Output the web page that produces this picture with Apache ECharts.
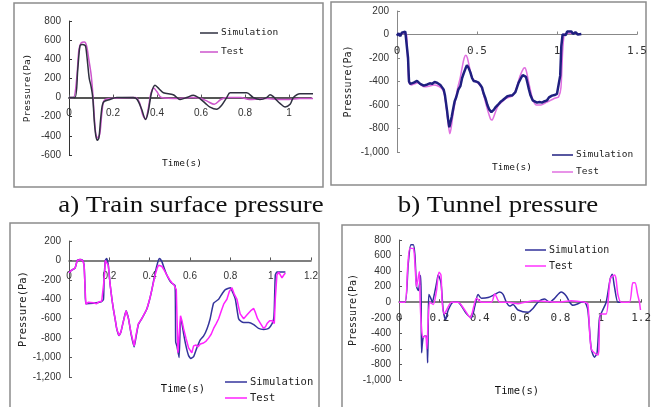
<!DOCTYPE html>
<html>
<head>
<meta charset="utf-8">
<script src="https://cdn.jsdelivr.net/npm/echarts@6/dist/echarts.min.js"></script>
<style>
  html, body { margin: 0; background: #fff; }
  #main { width: 654px; height: 407px; }
</style>
</head>
<body>
<div id="main"></div>
<script>
// a) train surface pressure  [time(s), pressure(Pa)]
const simA = [[0,0],[0.027,0],[0.04,300],[0.05,540],[0.06,555],[0.073,545],[0.077,520],[0.085,350],[0.092,200],[0.1,120],[0.108,0],[0.115,-250],[0.122,-400],[0.129,-445],[0.136,-420],[0.145,-200],[0.156,-50],[0.186,-20],[0.217,0],[0.292,0],[0.31,-20],[0.33,-120],[0.348,-230],[0.36,-150],[0.375,50],[0.391,130],[0.41,90],[0.429,50],[0.474,30],[0.505,-20],[0.535,0],[0.565,25],[0.595,-10],[0.62,-60],[0.641,-100],[0.671,-122],[0.694,-80],[0.717,0],[0.732,50],[0.777,50],[0.808,50],[0.838,0],[0.868,-20],[0.898,0],[0.914,30],[0.929,10],[0.945,-30],[0.959,-60],[0.982,-98],[1.005,-70],[1.02,0],[1.05,40],[1.11,40]];
const testA = [[0,0],[0.02,0],[0.035,200],[0.045,500],[0.055,570],[0.07,580],[0.08,540],[0.09,400],[0.1,250],[0.108,50],[0.115,-200],[0.122,-380],[0.13,-420],[0.14,-380],[0.15,-150],[0.16,-30],[0.19,-10],[0.3,0],[0.32,-50],[0.335,-180],[0.348,-225],[0.36,-120],[0.372,40],[0.385,100],[0.4,60],[0.42,0],[0.5,-10],[0.56,0],[0.6,-10],[0.63,-40],[0.66,-70],[0.69,-20],[0.72,0],[0.78,0],[0.82,-20],[0.86,-15],[0.9,-10],[0.95,-20],[1.0,-20],[1.05,-10],[1.11,-10]];

// b) tunnel pressure
const simB = [[0,-10],[0.01,10],[0.02,-15],[0.03,15],[0.04,0],[0.052,25],[0.062,10],[0.069,-200],[0.075,-400],[0.083,-420],[0.095,-430],[0.105,-410],[0.115,-420],[0.125,-395],[0.135,-390],[0.145,-420],[0.155,-410],[0.167,-435],[0.177,-440],[0.19,-425],[0.205,-415],[0.219,-420],[0.235,-405],[0.25,-410],[0.262,-420],[0.271,-430],[0.282,-450],[0.292,-470],[0.3,-520],[0.306,-580],[0.313,-650],[0.319,-720],[0.327,-790],[0.333,-780],[0.342,-700],[0.35,-640],[0.36,-570],[0.371,-530],[0.383,-470],[0.396,-440],[0.407,-370],[0.417,-330],[0.428,-290],[0.437,-262],[0.446,-280],[0.458,-320],[0.469,-370],[0.479,-395],[0.495,-400],[0.51,-410],[0.521,-430],[0.531,-450],[0.541,-500],[0.552,-540],[0.565,-600],[0.577,-640],[0.59,-660],[0.598,-662],[0.606,-640],[0.615,-620],[0.63,-600],[0.646,-575],[0.66,-560],[0.677,-540],[0.69,-525],[0.705,-520],[0.719,-520],[0.73,-505],[0.74,-490],[0.75,-450],[0.76,-410],[0.775,-370],[0.786,-345],[0.796,-338],[0.806,-360],[0.815,-410],[0.825,-470],[0.835,-520],[0.848,-560],[0.86,-575],[0.875,-580],[0.89,-575],[0.906,-580],[0.92,-570],[0.938,-560],[0.95,-535],[0.969,-520],[0.985,-515],[1.0,-505],[1.012,-510],[1.02,-350],[1.027,-100],[1.035,0],[1.045,15],[1.055,-5],[1.063,25],[1.075,10],[1.09,25],[1.1,5],[1.115,20],[1.13,0],[1.14,15],[1.152,5]];
const testB = [[0,0],[0.05,10],[0.06,0],[0.068,-250],[0.075,-410],[0.09,-430],[0.11,-420],[0.13,-410],[0.15,-430],[0.17,-445],[0.2,-440],[0.23,-430],[0.26,-440],[0.28,-460],[0.295,-500],[0.31,-640],[0.322,-780],[0.33,-845],[0.338,-800],[0.35,-680],[0.365,-560],[0.38,-450],[0.395,-370],[0.41,-260],[0.42,-200],[0.43,-177],[0.44,-200],[0.455,-290],[0.47,-370],[0.49,-400],[0.51,-420],[0.53,-460],[0.55,-560],[0.57,-660],[0.585,-720],[0.595,-727],[0.61,-680],[0.63,-610],[0.65,-580],[0.68,-545],[0.71,-530],[0.73,-510],[0.75,-440],[0.77,-350],[0.79,-290],[0.8,-282],[0.81,-320],[0.83,-450],[0.85,-560],[0.87,-600],[0.9,-600],[0.93,-580],[0.96,-560],[0.99,-540],[1.01,-530],[1.025,-450],[1.035,-150],[1.045,0],[1.06,10],[1.1,10]];

// c) third case
const simC = [[0,-126],[0.013,-100],[0.03,-80],[0.041,0],[0.055,10],[0.068,0],[0.075,-50],[0.08,-300],[0.084,-445],[0.12,-440],[0.16,-425],[0.171,-400],[0.174,-200],[0.18,0],[0.187,20],[0.195,-50],[0.204,-250],[0.213,-400],[0.22,-500],[0.23,-620],[0.237,-706],[0.248,-774],[0.257,-740],[0.267,-650],[0.283,-518],[0.295,-600],[0.308,-760],[0.323,-890],[0.333,-780],[0.344,-660],[0.361,-600],[0.386,-500],[0.4,-400],[0.411,-300],[0.427,-130],[0.44,-20],[0.449,20],[0.46,-10],[0.472,-80],[0.485,-150],[0.5,-210],[0.51,-235],[0.526,-260],[0.529,-840],[0.535,-880],[0.546,-1000],[0.553,-600],[0.56,-650],[0.568,-750],[0.58,-880],[0.593,-980],[0.604,-1010],[0.618,-990],[0.634,-900],[0.65,-820],[0.667,-780],[0.685,-700],[0.7,-600],[0.717,-440],[0.742,-400],[0.76,-340],[0.775,-300],[0.8,-280],[0.812,-330],[0.825,-400],[0.841,-600],[0.855,-630],[0.866,-640],[0.891,-638],[0.916,-660],[0.94,-700],[0.965,-710],[0.99,-700],[1.007,-650],[1.015,-600],[1.018,-500],[1.023,-150],[1.031,-120],[1.073,-120]];
const testC = [[0,-126],[0.013,-100],[0.03,-80],[0.041,0],[0.055,10],[0.068,0],[0.075,-50],[0.08,-300],[0.084,-450],[0.095,-430],[0.104,-450],[0.12,-435],[0.137,-445],[0.15,-425],[0.162,-420],[0.171,-400],[0.174,-200],[0.18,0],[0.187,20],[0.195,-50],[0.204,-250],[0.213,-400],[0.22,-500],[0.23,-620],[0.237,-706],[0.248,-774],[0.257,-740],[0.267,-650],[0.283,-518],[0.295,-600],[0.308,-750],[0.323,-880],[0.333,-760],[0.344,-650],[0.361,-600],[0.386,-500],[0.4,-400],[0.411,-300],[0.427,-150],[0.437,-80],[0.444,-50],[0.452,-40],[0.46,-60],[0.472,-100],[0.485,-150],[0.5,-200],[0.51,-230],[0.52,-250],[0.526,-262],[0.532,-300],[0.54,-950],[0.553,-570],[0.56,-620],[0.568,-700],[0.58,-800],[0.593,-900],[0.609,-950],[0.618,-880],[0.63,-870],[0.64,-890],[0.651,-860],[0.667,-850],[0.68,-830],[0.692,-800],[0.7,-820],[0.705,-760],[0.717,-700],[0.73,-650],[0.742,-600],[0.755,-520],[0.767,-450],[0.783,-400],[0.795,-320],[0.808,-280],[0.82,-350],[0.833,-400],[0.841,-480],[0.849,-550],[0.866,-600],[0.874,-580],[0.883,-560],[0.891,-550],[0.9,-520],[0.916,-494],[0.925,-540],[0.935,-600],[0.95,-650],[0.965,-700],[0.975,-680],[0.982,-650],[0.995,-620],[1.007,-620],[1.018,-650],[1.023,-400],[1.031,-150],[1.04,-120],[1.048,-120],[1.056,-180],[1.065,-150],[1.073,-130]];

// d) fourth case
const simD = [[0,0],[0.03,0],[0.046,500],[0.059,740],[0.071,740],[0.079,600],[0.087,200],[0.096,150],[0.107,342],[0.11,0],[0.112,-650],[0.12,-450],[0.134,-430],[0.14,-600],[0.142,-779],[0.145,-300],[0.148,100],[0.158,50],[0.165,0],[0.175,100],[0.19,300],[0.194,350],[0.208,250],[0.219,-100],[0.231,-222],[0.244,-100],[0.269,0],[0.293,0],[0.31,-50],[0.335,-150],[0.359,-200],[0.376,-50],[0.392,100],[0.409,50],[0.442,60],[0.475,100],[0.499,130],[0.516,100],[0.532,0],[0.549,-50],[0.565,-30],[0.59,-100],[0.64,-130],[0.664,-80],[0.689,0],[0.722,40],[0.747,0],[0.771,50],[0.804,130],[0.829,80],[0.846,0],[0.862,-40],[0.887,-20],[0.903,0],[0.92,0],[0.936,-100],[0.953,-600],[0.969,-706],[0.982,-650],[0.994,-200],[1.01,-100],[1.027,0],[1.047,300],[1.057,360],[1.068,200],[1.085,0],[1.1,0]];
const testD = [[0,0],[0.03,0],[0.043,450],[0.054,693],[0.071,690],[0.079,500],[0.087,200],[0.101,394],[0.105,0],[0.112,-350],[0.12,-450],[0.132,-430],[0.138,-600],[0.145,-200],[0.153,0],[0.17,-30],[0.186,150],[0.198,385],[0.208,350],[0.214,0],[0.224,-150],[0.236,-100],[0.26,0],[0.293,0],[0.326,-100],[0.354,-200],[0.371,-50],[0.384,50],[0.409,0],[0.458,0],[0.475,107],[0.499,0],[0.541,0],[0.59,-20],[0.623,0],[0.672,20],[0.788,0],[0.854,20],[0.92,0],[0.936,-20],[0.953,-600],[0.986,-680],[0.991,-600],[0.999,-150],[1.027,-150],[1.047,300],[1.068,350],[1.076,300],[1.085,100],[1.101,0],[1.142,0],[1.159,250],[1.17,250],[1.183,100],[1.192,0],[1.197,-100]];

const captions = ['a) Train surface pressure', 'b) Tunnel pressure'];

const MONO = '"DejaVu Sans Mono", "Liberation Mono", monospace';
const SANS = '"Liberation Sans", Arial, sans-serif';
const SERIF = '24px "Liberation Serif", "Times New Roman", serif';

const grids = [
  { left: 69, top: 21, width: 242, height: 134 },
  { left: 397, top: 11, width: 240, height: 141 },
  { left: 69, top: 241, width: 242, height: 136 },
  { left: 399, top: 240, width: 243, height: 140 }
];
const yRanges = [[-600, 800], [-1000, 200], [-1200, 200], [-1000, 800]];

// x axis sits on y = 0, labels included (move it up from the grid bottom)
function xAx(i, max, interval, c, font, showMax, margin) {
  const r = yRanges[i];
  return {
    type: 'value', gridIndex: i, min: 0, max: max, interval: interval,
    offset: -grids[i].height * (0 - r[0]) / (r[1] - r[0]),
    axisLine: { onZero: false, lineStyle: { color: c.line, width: c.w } },
    axisTick: { inside: true, length: 3, lineStyle: { color: c.line } },
    axisLabel: { margin: margin, fontSize: font === MONO ? 11 : 10, fontFamily: font, color: '#333', showMaxLabel: showMax },
    splitLine: { show: false }
  };
}
function yAx(i, c, gap, nameSize) {
  return {
    type: 'value', gridIndex: i, min: yRanges[i][0], max: yRanges[i][1], interval: 200,
    name: 'Pressure(Pa)', nameLocation: 'middle', nameRotate: 90, nameGap: gap,
    nameTextStyle: { fontFamily: MONO, fontSize: nameSize, color: '#222' },
    axisLine: { show: true, onZero: false, lineStyle: { color: c, width: 1 } },
    axisTick: { show: true, inside: true, length: 3, lineStyle: { color: c } },
    axisLabel: { margin: 8, fontSize: 10, fontFamily: SANS, color: '#333' },
    splitLine: { show: false }
  };
}
function line(name, i, data, color, width, smooth) {
  return {
    name: name, type: 'line', xAxisIndex: i, yAxisIndex: i, data: data,
    color: color, showSymbol: false, smooth: smooth, animation: false,
    lineStyle: { color: color, width: width }
  };
}
function legendOf(p, left, top, w, gap, size) {
  return {
    left: left, top: top, orient: 'vertical', icon: 'rect', itemWidth: w, itemHeight: 1.5,
    itemGap: gap, padding: 0, selectedMode: false, data: [p + ':Simulation', p + ':Test'],
    formatter: n => n.split(':')[1],
    textStyle: { fontFamily: MONO, fontSize: size, color: '#222', lineHeight: 12, padding: [0, 0, 0, -2] }
  };
}
function box(x, y, w, h) {
  return { type: 'rect', shape: { x: x, y: y, width: w, height: h },
    style: { fill: null, stroke: '#8c8c8c', lineWidth: 1.5 }, silent: true };
}
function txt(s, x, y, font, sx) {
  return { type: 'text', x: x, y: y, scaleX: sx || 1, silent: true,
    style: { text: s, font: font, fill: '#111', align: 'center', verticalAlign: 'middle' } };
}

const chart = echarts.init(document.getElementById('main'));
chart.setOption({
  backgroundColor: '#fff',
  animation: false,
  grid: grids,
  xAxis: [
    xAx(0, 1.1, 0.2, { line: '#555', w: 2 }, SANS, false, 11),
    xAx(1, 1.5, 0.5, { line: '#888', w: 1 }, MONO, true, 11),
    xAx(2, 1.2, 0.2, { line: '#555', w: 1.5 }, SANS, true, 11),
    xAx(3, 1.2, 0.2, { line: '#555', w: 1.5 }, MONO, true, 10)
  ],
  yAxis: [
    yAx(0, '#333', 36, 9.5),
    yAx(1, '#888', 44, 10),
    yAx(2, '#555', 36, 10.5),
    yAx(3, '#555', 37, 10)
  ],
  legend: [
    legendOf('a', 200, 27, 18, 7, 9.5),
    legendOf('b', 552, 149, 21, 5, 9.5),
    legendOf('c', 225, 376, 22, 4, 10.5),
    legendOf('d', 525, 244, 21, 4, 10)
  ],
  series: [
    line('a:Test', 0, testA, '#cc55cc', 1.5, 0.3),
    line('a:Simulation', 0, simA, '#2f3040', 1.5, 0.3),
    line('b:Test', 1, testB, '#e070e0', 1.5, 0.2),
    line('b:Simulation', 1, simB, '#1f1f80', 2.5, false),
    line('c:Simulation', 2, simC, '#35359c', 1.5, 0.15),
    line('c:Test', 2, testC, '#ff22ff', 1.5, false),
    line('d:Simulation', 3, simD, '#30309a', 1.5, 0.25),
    line('d:Test', 3, testD, '#ff33ff', 1.5, 0.25)
  ],
  graphic: [
    box(14, 3, 309, 184),
    box(331, 2, 315, 183),
    box(10, 223, 309, 200),
    box(342, 225, 307, 200),
    txt(captions[0], 191, 206, SERIF, 1.12),
    txt(captions[1], 498, 206, SERIF, 1.12),
    txt('Time(s)', 182, 164, '9.5px ' + MONO),
    txt('Time(s)', 512, 168, '9.5px ' + MONO),
    txt('Time(s)', 183, 389, '10.5px ' + MONO),
    txt('Time(s)', 517, 391, '10.5px ' + MONO)
  ]
});
</script>
</body>
</html>
